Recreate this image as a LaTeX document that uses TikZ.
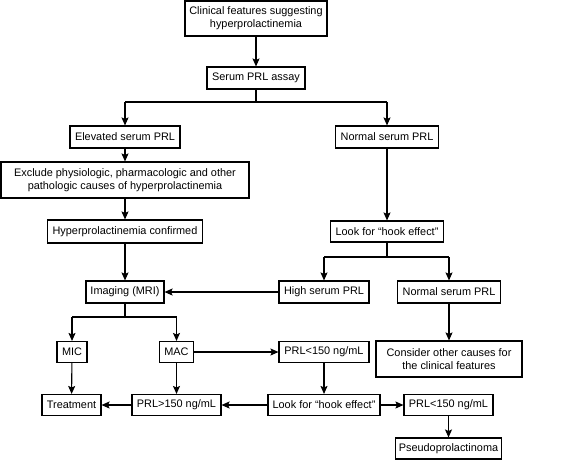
\documentclass[tikz,border=0pt]{standalone}
\usepackage{fontspec}
\setmainfont{Liberation Sans}
\usetikzlibrary{arrows.meta}
\begin{document}
\begin{tikzpicture}[x=1pt,y=-1pt,
  box/.style={draw,line width=1.1pt,inner sep=0pt,align=center,
    font=\fontsize{10.9}{13.3}\selectfont},
  conn/.style={line width=1.1pt,-{Stealth[length=8pt,width=7pt,inset=1.5pt]}},
  seg/.style={line width=1.1pt}]
\useasboundingbox (0,0) rectangle (586,461);
\def\bx#1#2#3#4#5#6{\node[box,minimum width=#4pt,minimum height=#5pt] (#1) at (#2,#3) {#6};}
\bx{b1}{256}{18.5}{142}{35}{Clinical features suggesting\\hyperprolactinemia}
\bx{b2}{256}{78}{98}{22}{Serum PRL assay}
\bx{b3}{125}{137}{110}{22}{Elevated serum PRL}
\bx{b4}{387}{137}{103}{22}{Normal serum PRL}
\bx{b5}{125}{180}{248}{36}{Exclude physiologic, pharmacologic and other\\pathologic causes of hyperprolactinemia}
\bx{b6}{125}{231.5}{155}{23}{Hyperprolactinemia confirmed}
\bx{b7}{387}{231.5}{113}{21}{Look for “hook effect”}
\bx{b8}{125}{292}{78}{22}{Imaging (MRI)}
\bx{b9}{324}{292}{90}{22}{High serum PRL}
\bx{b10}{449}{292}{103}{22}{Normal serum PRL}
\bx{b11}{72}{352}{30}{21}{MIC}
\bx{b12}{176.5}{352}{34}{21}{MAC}
\bx{b13}{324}{352}{90}{21}{PRL<150 ng/mL}
\bx{b14}{449}{359}{146}{36}{Consider other causes for\\the clinical features}
\bx{b15}{71.5}{405}{59}{21}{Treatment}
\bx{b16}{176.5}{405}{89}{21}{PRL>150 ng/mL}
\bx{b17}{324}{405}{112}{21}{Look for “hook effect”}
\bx{b18}{448.5}{405}{89}{21}{PRL<150 ng/mL}
\bx{b19}{448.5}{448.5}{106}{21}{Pseudoprolactinoma}
% connectors
\draw[conn] (b1) -- (b2);
\coordinate (j1) at (256,102);
\coordinate (j1l) at (125,102);
\coordinate (j1r) at (387,102);
\draw[seg] (b2.south) -- (j1);
\draw[seg] (j1l) -- (j1r);
\draw[conn] (j1l) -- (b3.north);
\draw[conn] (j1r) -- (b4.north);
\draw[conn] (b3) -- (b5);
\draw[conn] (b5) -- (b6);
\draw[conn] (b6) -- (b8);
\draw[conn] (b4) -- (b7);
\coordinate (j2) at (387,257);
\coordinate (j2l) at (324,257);
\coordinate (j2r) at (449,257);
\draw[seg] (b7.south) -- (j2);
\draw[seg] (j2l) -- (j2r);
\draw[conn] (j2l) -- (b9.north);
\draw[conn] (j2r) -- (b10.north);
\draw[conn] (b9) -- (b8);
\draw[conn] (b10) -- (b14);
\coordinate (j3) at (125,317);
\coordinate (j3l) at (72,317);
\coordinate (j3r) at (176.5,317);
\draw[seg] (b8.south) -- (j3);
\draw[seg] (j3l) -- (j3r);
\draw[conn] (j3l) -- (b11.north);
\draw[conn] (j3r) -- (b12.north);
\draw[conn] (b11) -- (b15);
\draw[conn] (b12) -- (b16);
\draw[conn] (b12) -- (b13);
\draw[conn] (b13) -- (b17);
\draw[conn] (b17) -- (b16);
\draw[conn] (b17) -- (b18);
\draw[conn] (b16) -- (b15);
\draw[conn] (b18) -- (b19);
\end{tikzpicture}
\end{document}
